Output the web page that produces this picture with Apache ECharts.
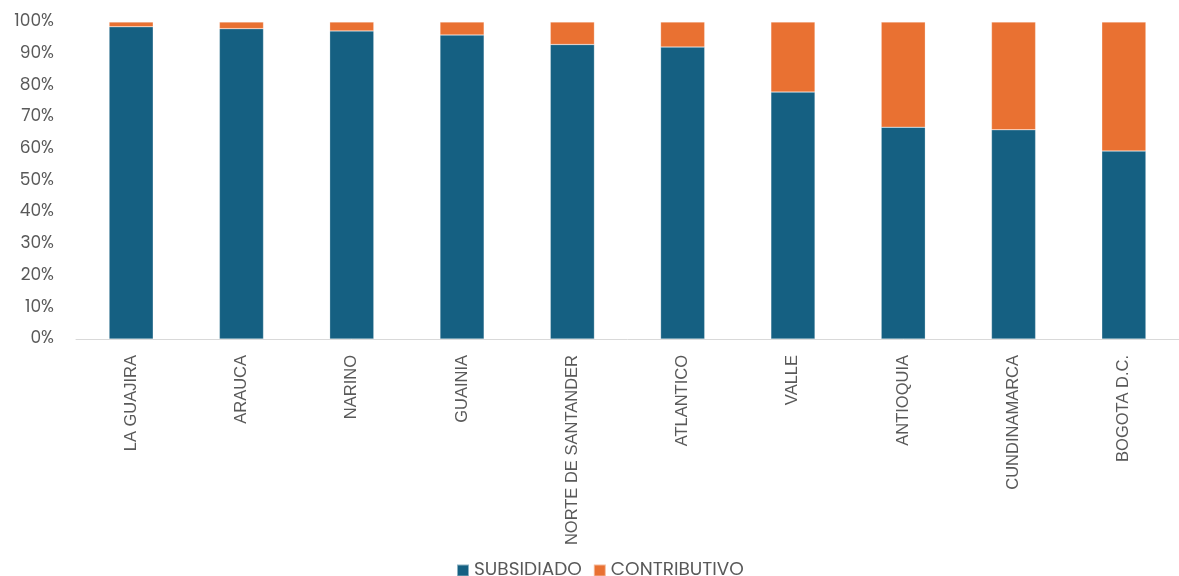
<!DOCTYPE html>
<html>
<head>
<meta charset="utf-8">
<script src="https://cdn.jsdelivr.net/npm/echarts@6/dist/echarts.min.js"></script>
<style>
  html, body { margin: 0; padding: 0; background: #fff; }
  #chart { width: 1179px; height: 576px; }
</style>
</head>
<body>
<div id="chart"></div>
<script>
// Departments, ordered by share of subsidised regime
const categories = ['LA GUAJIRA', 'ARAUCA', 'NARINO', 'GUAINIA', 'NORTE DE SANTANDER',
  'ATLANTICO', 'VALLE', 'ANTIOQUIA', 'CUNDINAMARCA', 'BOGOTA D.C.'];
// Share of affiliates (%)
const subsidiado = [98.5, 97.9, 97.2, 95.9, 92.9, 92.1, 77.9, 66.8, 66.0, 59.3];
const contributivo = [1.5, 2.1, 2.8, 4.1, 7.1, 7.9, 22.1, 33.2, 34.0, 40.7];
const yTicks = { min: 0, max: 100, interval: 10 };

const font = 'Poppins, "Noto Sans", Inter, sans-serif';
const labelFont = '"Liberation Sans", Arial, sans-serif';
const textColor = '#595959';

const chart = echarts.init(document.getElementById('chart'), null, { renderer: 'canvas' });
chart.setOption({
  animation: false,
  textStyle: { fontFamily: font },
  legend: {
    top: 556,
    left: 451,
    itemWidth: 12,
    itemHeight: 12,
    itemGap: 11,
    icon: 'rect',
    textStyle: { color: textColor, fontSize: 18.5, fontFamily: font },
    data: ['SUBSIDIADO', 'CONTRIBUTIVO']
  },
  grid: { left: 76, right: 0, top: 22, bottom: 237, containLabel: false },
  xAxis: {
    type: 'category',
    data: categories,
    axisLine: { lineStyle: { color: '#d9d9d9', width: 1 } },
    axisTick: { show: false },
    axisLabel: {
      rotate: 90,
      interval: 0,
      margin: 16,
      color: textColor,
      fontSize: 16.5,
      fontFamily: labelFont
    }
  },
  yAxis: {
    type: 'value',
    min: yTicks.min,
    max: yTicks.max,
    interval: yTicks.interval,
    splitLine: { show: false },
    axisLine: { show: false },
    axisTick: { show: false },
    axisLabel: {
      formatter: '{value}%',
      margin: 22,
      color: textColor,
      fontSize: 17,
      fontFamily: font
    }
  },
  series: [
    {
      name: 'SUBSIDIADO',
      type: 'bar',
      stack: 'total',
      barWidth: '40%',
      data: subsidiado,
      itemStyle: { color: '#156082', borderColor: 'rgba(255,255,255,0.5)', borderWidth: 0.5 }
    },
    {
      name: 'CONTRIBUTIVO',
      type: 'bar',
      stack: 'total',
      barWidth: '40%',
      data: contributivo,
      itemStyle: { color: '#E97132', borderColor: 'rgba(255,255,255,0.5)', borderWidth: 0.5 }
    }
  ]
});
</script>
</body>
</html>
